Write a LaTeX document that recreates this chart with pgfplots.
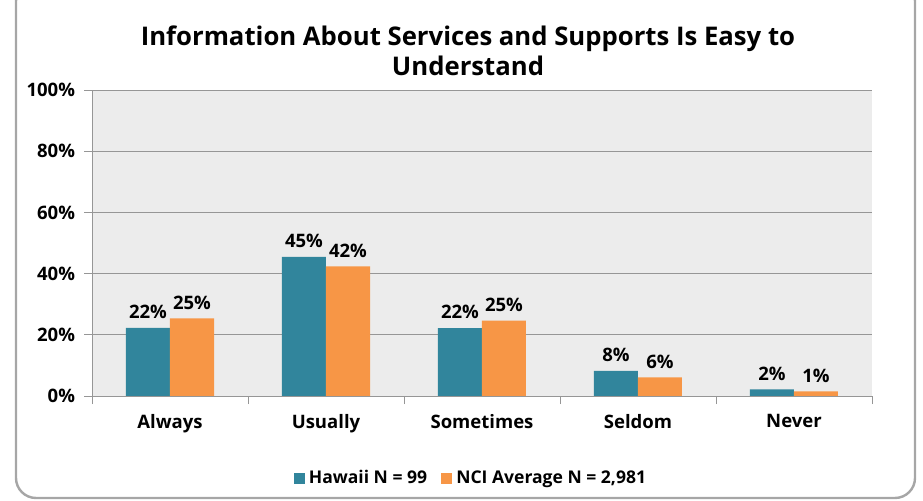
\documentclass[border=0pt]{standalone}
\usepackage{pgfplots}
\pgfplotsset{compat=1.18}
\usepackage{fontspec}
\setmainfont{Open Sans}

\definecolor{hawaii}{RGB}{49,133,156}
\definecolor{nci}{RGB}{247,150,70}
\definecolor{plotbg}{RGB}{236,236,236}
\definecolor{gridc}{RGB}{150,150,150}

\begin{document}
\begin{tikzpicture}
  % picture = 923 x 501 px, 1px = 0.5bp
  \useasboundingbox (0bp,0bp) rectangle (461.5bp,250.5bp);
  \draw[gray!70, line width=1.2bp, rounded corners=10bp] (8bp,1.5bp) rectangle (457.5bp,260bp);

  \node[font=\bfseries\fontsize{12.9}{15}\selectfont, align=center] at (234bp,225bp)
    {Information About Services and Supports Is Easy to\\Understand};

  \begin{axis}[
      at={(46bp,52.5bp)}, anchor=south west,
      scale only axis,
      width=390bp, height=153bp,
      ybar=0pt, bar width=22bp,
      xmin=-0.5, xmax=4.5,
      ymin=0, ymax=100,
      xtick={0,1,2,3,4},
      xticklabels={Always, Usually, Sometimes, Seldom, Never},
      ytick={0,20,40,60,80,100},
      yticklabels={0\%,20\%,40\%,60\%,80\%,100\%},
      xtick style={draw=none},
      ytick style={gridc, thin},
      major tick length=4bp,
      tick align=outside,
      extra x ticks={-0.5,0.5,1.5,2.5,3.5,4.5},
      extra x tick labels={},
      extra x tick style={xtick style={draw=gridc, thin}, grid=none},
      ymajorgrids, grid style={gridc, thin},
      axis background/.style={fill=plotbg},
      axis x line*=bottom, axis y line*=left,
      x axis line style={gridc, thin, -},
      y axis line style={gridc, thin, -},
      /pgf/number format/assume math mode=true,
      ticklabel style={font=\bfseries\fontsize{9.3}{11}\selectfont},
      xticklabel style={yshift=-1.5bp},
      yticklabel style={xshift=-1bp},
      point meta=explicit symbolic,
      nodes near coords={\pgfplotspointmeta\%},
      every node near coord/.append style={font=\bfseries\fontsize{9.3}{11}\selectfont, black, yshift=1bp},
      legend style={at={(0.487,-0.27)}, anchor=center, draw=none, fill=none,
        font=\bfseries\fontsize{8.8}{10}\selectfont,
        /tikz/every even column/.append style={column sep=5bp}},
      legend columns=2,
      legend image code/.code={\fill[#1] (0bp,-2.8bp) rectangle (5.6bp,2.8bp);},
    ]
    \addplot[fill=hawaii, draw=none] coordinates
      {(0,22.3)[22] (1,45.5)[45] (2,22.2)[22] (3,8.2)[8] (4,2.2)[2]};
    \addplot[fill=nci, draw=none] coordinates
      {(0,25.4)[25] (1,42.4)[42] (2,24.6)[25] (3,6.1)[6] (4,1.5)[1]};
    \legend{Hawaii N = 99, {NCI Average N = 2,981}}
  \end{axis}
\end{tikzpicture}
\end{document}
